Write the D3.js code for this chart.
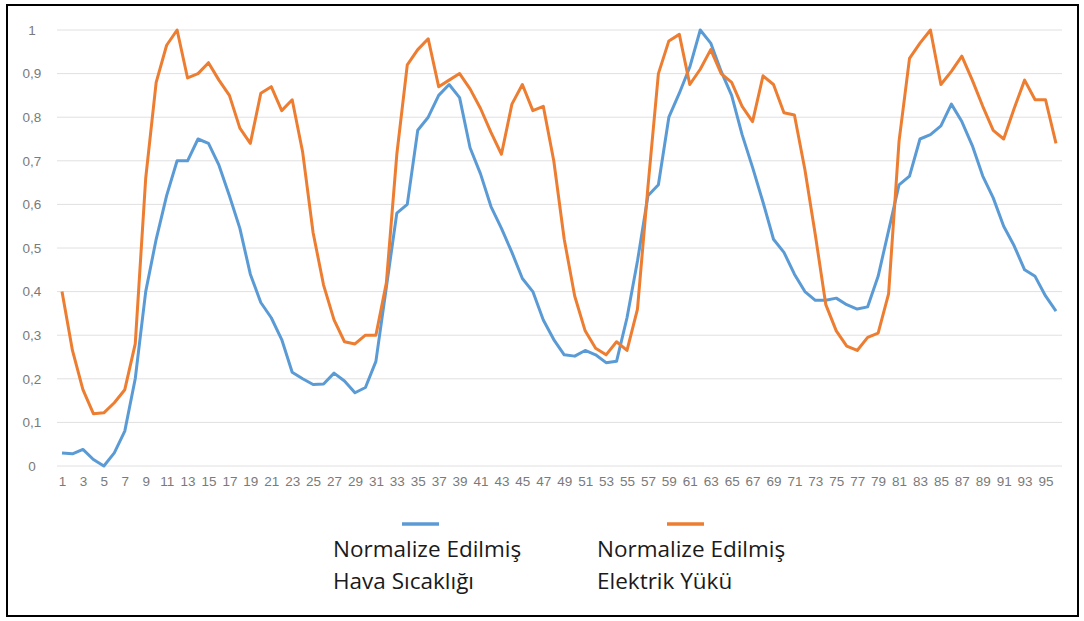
<!DOCTYPE html>
<html>
<head>
<meta charset="utf-8">
<script src="https://cdn.jsdelivr.net/npm/d3@7"></script>
<style>
  html, body { margin: 0; padding: 0; background: #fff; }
  svg { display: block; }
</style>
</head>
<body>
<svg id="chart" width="1084" height="621"></svg>
<script>
// ---- data ----
const categories = d3.range(1, 97);
const yTicks = [0, 0.1, 0.2, 0.3, 0.4, 0.5, 0.6, 0.7, 0.8, 0.9, 1];
const seriesNames = ["Normalize Edilmiş\nHava Sıcaklığı", "Normalize Edilmiş\nElektrik Yükü"];
const temperature = [
  0.03, 0.028, 0.038, 0.015, 0.0, 0.03, 0.08, 0.2, 0.4, 0.52,
  0.62, 0.70, 0.70, 0.75, 0.74, 0.69, 0.62, 0.545, 0.44, 0.375,
  0.34, 0.29, 0.215, 0.20, 0.187, 0.188, 0.213, 0.195, 0.168, 0.18,
  0.24, 0.41, 0.58, 0.60, 0.77, 0.80, 0.85, 0.875, 0.845, 0.73,
  0.67, 0.595, 0.545, 0.49, 0.43, 0.40, 0.335, 0.29, 0.255, 0.252,
  0.265, 0.255, 0.237, 0.24, 0.34, 0.47, 0.62, 0.645, 0.80, 0.855,
  0.915, 1.0, 0.97, 0.905, 0.85, 0.76, 0.685, 0.605, 0.52, 0.49,
  0.44, 0.40, 0.38, 0.38, 0.385, 0.37, 0.36, 0.365, 0.435, 0.54,
  0.645, 0.665, 0.75, 0.76, 0.78, 0.83, 0.79, 0.735, 0.665, 0.615,
  0.55, 0.505, 0.45, 0.435, 0.39, 0.355
];
const load = [
  0.40, 0.265, 0.175, 0.12, 0.122, 0.145, 0.175, 0.28, 0.66, 0.88,
  0.965, 1.0, 0.89, 0.90, 0.925, 0.885, 0.85, 0.775, 0.74, 0.855,
  0.87, 0.815, 0.84, 0.72, 0.535, 0.415, 0.335, 0.285, 0.28, 0.30,
  0.30, 0.42, 0.715, 0.92, 0.955, 0.98, 0.87, 0.885, 0.90, 0.865,
  0.82, 0.765, 0.715, 0.83, 0.875, 0.815, 0.825, 0.70, 0.52, 0.39,
  0.31, 0.27, 0.255, 0.285, 0.265, 0.36, 0.64, 0.90, 0.975, 0.99,
  0.875, 0.91, 0.955, 0.90, 0.88, 0.825, 0.79, 0.895, 0.875, 0.81,
  0.805, 0.68, 0.53, 0.37, 0.31, 0.275, 0.265, 0.295, 0.305, 0.395,
  0.745, 0.935, 0.97, 1.0, 0.875, 0.905, 0.94, 0.885, 0.825, 0.77,
  0.75, 0.82, 0.885, 0.84, 0.84, 0.74
];
const colors = ["#5b9bd5", "#ed7d31"];

// ---- layout ----
const svg = d3.select("#chart");

// frame
svg.append("rect").attr("x", 7).attr("y", 5).attr("width", 1071).attr("height", 611)
  .attr("fill", "#fff").attr("stroke", "#000").attr("stroke-width", 2);

const x = d3.scalePoint().domain(categories).range([62, 1056]);
const y = d3.scaleLinear().domain([0, 1]).range([466, 30]);
const gridX0 = 57, gridX1 = 1062;

// gridlines
svg.append("g").selectAll("line").data(yTicks).join("line")
  .attr("x1", gridX0).attr("x2", gridX1)
  .attr("y1", d => y(d)).attr("y2", d => y(d))
  .attr("stroke", "#e0e0e0").attr("stroke-width", 1);

// y tick labels
const fmt = d => d === 0 ? "0" : d === 1 ? "1" : d3.format(".1f")(d).replace(".", ",");
svg.append("g").selectAll("text").data(yTicks).join("text")
  .attr("x", 32).attr("y", d => y(d)).attr("dy", "0.35em")
  .attr("text-anchor", "middle")
  .attr("font-family", "'Liberation Sans', Arial, sans-serif").attr("font-size", 13.5)
  .attr("fill", "#7a7a7a")
  .text(fmt);

// x axis labels (odd categories)
const xAxis = d3.axisBottom(x)
  .tickValues(categories.filter(d => d % 2 === 1))
  .tickSize(0).tickPadding(0);
const gx = svg.append("g").attr("transform", "translate(0,476)").call(xAxis);
gx.select(".domain").remove();
gx.selectAll("text")
  .attr("font-family", "'Liberation Sans', Arial, sans-serif").attr("font-size", 13.5)
  .attr("fill", "#7a7a7a");

// lines
const line = d3.line().x((d, i) => x(categories[i])).y(d => y(d));
[temperature, load].forEach((s, k) => {
  svg.append("path").datum(s)
    .attr("d", line)
    .attr("fill", "none")
    .attr("stroke", colors[k])
    .attr("stroke-width", 3)
    .attr("stroke-linejoin", "round");
});

// legend
const legendItems = [
  { lx: 402, tx: 333 },
  { lx: 667, tx: 597 }
];
legendItems.forEach((it, k) => {
  svg.append("line")
    .attr("x1", it.lx).attr("x2", it.lx + 37)
    .attr("y1", 524).attr("y2", 524)
    .attr("stroke", colors[k]).attr("stroke-width", 3.5);
  const lines = seriesNames[k].split("\n");
  const t = svg.append("text")
    .attr("font-family", "'Open Sans', 'Noto Sans', sans-serif")
    .attr("font-size", 22.5).attr("fill", "#1a1a1a");
  lines.forEach((s, j) => {
    t.append("tspan").attr("x", it.tx).attr("y", 557 + j * 32).text(s);
  });
});
</script>
</body>
</html>
